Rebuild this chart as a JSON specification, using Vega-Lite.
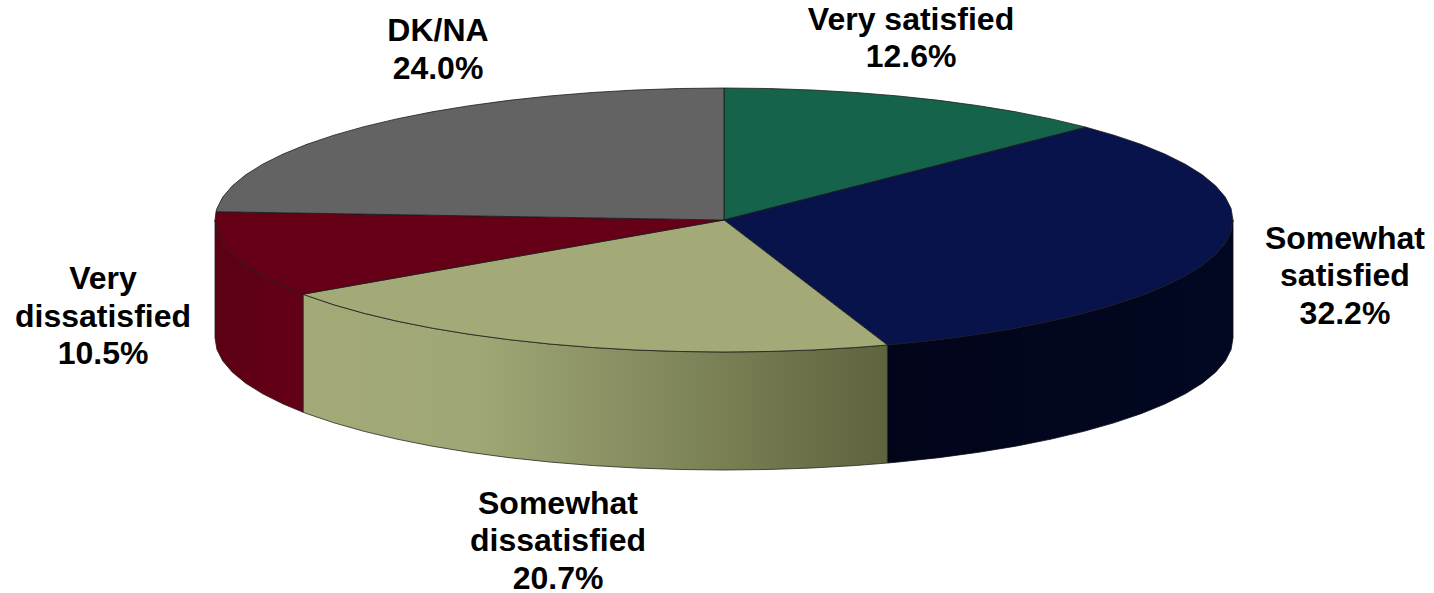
{
"$schema":"https://vega.github.io/schema/vega-lite/v6.json",
"width":1434,"height":593,"autosize":"none","padding":0,"background":"white",
"config":{"view":{"stroke":null}},
"datasets":{
"sides":[
{"s":"Somewhat satisfied","x":1,"y":0,"y2":-0.894},{"s":"Somewhat satisfied","x":0.9962,"y":-0.0872,"y2":-0.9812},{"s":"Somewhat satisfied","x":0.9848,"y":-0.1736,"y2":-1.0676},{"s":"Somewhat satisfied","x":0.9659,"y":-0.2588,"y2":-1.1528},{"s":"Somewhat satisfied","x":0.9397,"y":-0.342,"y2":-1.236},{"s":"Somewhat satisfied","x":0.9063,"y":-0.4226,"y2":-1.3166},{"s":"Somewhat satisfied","x":0.866,"y":-0.5,"y2":-1.394},{"s":"Somewhat satisfied","x":0.8192,"y":-0.5736,"y2":-1.4676},{"s":"Somewhat satisfied","x":0.766,"y":-0.6428,"y2":-1.5368},{"s":"Somewhat satisfied","x":0.7071,"y":-0.7071,"y2":-1.6011},{"s":"Somewhat satisfied","x":0.6428,"y":-0.766,"y2":-1.66},{"s":"Somewhat satisfied","x":0.5736,"y":-0.8192,"y2":-1.7132},{"s":"Somewhat satisfied","x":0.5,"y":-0.866,"y2":-1.76},{"s":"Somewhat satisfied","x":0.4226,"y":-0.9063,"y2":-1.8003},{"s":"Somewhat satisfied","x":0.342,"y":-0.9397,"y2":-1.8337},{"s":"Somewhat satisfied","x":0.321,"y":-0.9471,"y2":-1.8411},
{"s":"Somewhat dissatisfied","x":0.321,"y":-0.9471,"y2":-1.8411},{"s":"Somewhat dissatisfied","x":0.2588,"y":-0.9659,"y2":-1.8599},{"s":"Somewhat dissatisfied","x":0.1736,"y":-0.9848,"y2":-1.8788},{"s":"Somewhat dissatisfied","x":0.0872,"y":-0.9962,"y2":-1.8902},{"s":"Somewhat dissatisfied","x":0,"y":-1,"y2":-1.894},{"s":"Somewhat dissatisfied","x":-0.0872,"y":-0.9962,"y2":-1.8902},{"s":"Somewhat dissatisfied","x":-0.1736,"y":-0.9848,"y2":-1.8788},{"s":"Somewhat dissatisfied","x":-0.2588,"y":-0.9659,"y2":-1.8599},{"s":"Somewhat dissatisfied","x":-0.342,"y":-0.9397,"y2":-1.8337},{"s":"Somewhat dissatisfied","x":-0.4226,"y":-0.9063,"y2":-1.8003},{"s":"Somewhat dissatisfied","x":-0.5,"y":-0.866,"y2":-1.76},{"s":"Somewhat dissatisfied","x":-0.5736,"y":-0.8192,"y2":-1.7132},{"s":"Somewhat dissatisfied","x":-0.6428,"y":-0.766,"y2":-1.66},{"s":"Somewhat dissatisfied","x":-0.7071,"y":-0.7071,"y2":-1.6011},{"s":"Somewhat dissatisfied","x":-0.766,"y":-0.6428,"y2":-1.5368},{"s":"Somewhat dissatisfied","x":-0.8192,"y":-0.5736,"y2":-1.4676},{"s":"Somewhat dissatisfied","x":-0.8271,"y":-0.5621,"y2":-1.4561},
{"s":"Very dissatisfied","x":-0.8271,"y":-0.5621,"y2":-1.4561},{"s":"Very dissatisfied","x":-0.866,"y":-0.5,"y2":-1.394},{"s":"Very dissatisfied","x":-0.9063,"y":-0.4226,"y2":-1.3166},{"s":"Very dissatisfied","x":-0.9397,"y":-0.342,"y2":-1.236},{"s":"Very dissatisfied","x":-0.9659,"y":-0.2588,"y2":-1.1528},{"s":"Very dissatisfied","x":-0.9848,"y":-0.1736,"y2":-1.0676},{"s":"Very dissatisfied","x":-0.9962,"y":-0.0872,"y2":-0.9812},{"s":"Very dissatisfied","x":-1,"y":0,"y2":-0.894}
],
"tops":[
{"s":"Very satisfied","i":0,"x":0,"y":0},{"s":"Very satisfied","i":1,"x":0,"y":1},{"s":"Very satisfied","i":2,"x":0.0872,"y":0.9962},{"s":"Very satisfied","i":3,"x":0.1736,"y":0.9848},{"s":"Very satisfied","i":4,"x":0.2588,"y":0.9659},{"s":"Very satisfied","i":5,"x":0.342,"y":0.9397},{"s":"Very satisfied","i":6,"x":0.4226,"y":0.9063},{"s":"Very satisfied","i":7,"x":0.5,"y":0.866},{"s":"Very satisfied","i":8,"x":0.5736,"y":0.8192},{"s":"Very satisfied","i":9,"x":0.6428,"y":0.766},{"s":"Very satisfied","i":10,"x":0.7071,"y":0.7071},{"s":"Very satisfied","i":11,"x":0.7115,"y":0.7027},{"s":"Very satisfied","i":12,"x":0,"y":0},
{"s":"Somewhat satisfied","i":0,"x":0,"y":0},{"s":"Somewhat satisfied","i":1,"x":0.7115,"y":0.7027},{"s":"Somewhat satisfied","i":2,"x":0.766,"y":0.6428},{"s":"Somewhat satisfied","i":3,"x":0.8192,"y":0.5736},{"s":"Somewhat satisfied","i":4,"x":0.866,"y":0.5},{"s":"Somewhat satisfied","i":5,"x":0.9063,"y":0.4226},{"s":"Somewhat satisfied","i":6,"x":0.9397,"y":0.342},{"s":"Somewhat satisfied","i":7,"x":0.9659,"y":0.2588},{"s":"Somewhat satisfied","i":8,"x":0.9848,"y":0.1736},{"s":"Somewhat satisfied","i":9,"x":0.9962,"y":0.0872},{"s":"Somewhat satisfied","i":10,"x":1,"y":0},{"s":"Somewhat satisfied","i":11,"x":0.9962,"y":-0.0872},{"s":"Somewhat satisfied","i":12,"x":0.9848,"y":-0.1736},{"s":"Somewhat satisfied","i":13,"x":0.9659,"y":-0.2588},{"s":"Somewhat satisfied","i":14,"x":0.9397,"y":-0.342},{"s":"Somewhat satisfied","i":15,"x":0.9063,"y":-0.4226},{"s":"Somewhat satisfied","i":16,"x":0.866,"y":-0.5},{"s":"Somewhat satisfied","i":17,"x":0.8192,"y":-0.5736},{"s":"Somewhat satisfied","i":18,"x":0.766,"y":-0.6428},{"s":"Somewhat satisfied","i":19,"x":0.7071,"y":-0.7071},{"s":"Somewhat satisfied","i":20,"x":0.6428,"y":-0.766},{"s":"Somewhat satisfied","i":21,"x":0.5736,"y":-0.8192},{"s":"Somewhat satisfied","i":22,"x":0.5,"y":-0.866},{"s":"Somewhat satisfied","i":23,"x":0.4226,"y":-0.9063},{"s":"Somewhat satisfied","i":24,"x":0.342,"y":-0.9397},{"s":"Somewhat satisfied","i":25,"x":0.321,"y":-0.9471},{"s":"Somewhat satisfied","i":26,"x":0,"y":0},
{"s":"Somewhat dissatisfied","i":0,"x":0,"y":0},{"s":"Somewhat dissatisfied","i":1,"x":0.321,"y":-0.9471},{"s":"Somewhat dissatisfied","i":2,"x":0.2588,"y":-0.9659},{"s":"Somewhat dissatisfied","i":3,"x":0.1736,"y":-0.9848},{"s":"Somewhat dissatisfied","i":4,"x":0.0872,"y":-0.9962},{"s":"Somewhat dissatisfied","i":5,"x":0,"y":-1},{"s":"Somewhat dissatisfied","i":6,"x":-0.0872,"y":-0.9962},{"s":"Somewhat dissatisfied","i":7,"x":-0.1736,"y":-0.9848},{"s":"Somewhat dissatisfied","i":8,"x":-0.2588,"y":-0.9659},{"s":"Somewhat dissatisfied","i":9,"x":-0.342,"y":-0.9397},{"s":"Somewhat dissatisfied","i":10,"x":-0.4226,"y":-0.9063},{"s":"Somewhat dissatisfied","i":11,"x":-0.5,"y":-0.866},{"s":"Somewhat dissatisfied","i":12,"x":-0.5736,"y":-0.8192},{"s":"Somewhat dissatisfied","i":13,"x":-0.6428,"y":-0.766},{"s":"Somewhat dissatisfied","i":14,"x":-0.7071,"y":-0.7071},{"s":"Somewhat dissatisfied","i":15,"x":-0.766,"y":-0.6428},{"s":"Somewhat dissatisfied","i":16,"x":-0.8192,"y":-0.5736},{"s":"Somewhat dissatisfied","i":17,"x":-0.8271,"y":-0.5621},{"s":"Somewhat dissatisfied","i":18,"x":0,"y":0},
{"s":"Very dissatisfied","i":0,"x":0,"y":0},{"s":"Very dissatisfied","i":1,"x":-0.8271,"y":-0.5621},{"s":"Very dissatisfied","i":2,"x":-0.866,"y":-0.5},{"s":"Very dissatisfied","i":3,"x":-0.9063,"y":-0.4226},{"s":"Very dissatisfied","i":4,"x":-0.9397,"y":-0.342},{"s":"Very dissatisfied","i":5,"x":-0.9659,"y":-0.2588},{"s":"Very dissatisfied","i":6,"x":-0.9848,"y":-0.1736},{"s":"Very dissatisfied","i":7,"x":-0.9962,"y":-0.0872},{"s":"Very dissatisfied","i":8,"x":-1,"y":0},{"s":"Very dissatisfied","i":9,"x":-0.998,"y":0.0628},{"s":"Very dissatisfied","i":10,"x":0,"y":0},
{"s":"DK/NA","i":0,"x":0,"y":0},{"s":"DK/NA","i":1,"x":-0.998,"y":0.0628},{"s":"DK/NA","i":2,"x":-0.9962,"y":0.0872},{"s":"DK/NA","i":3,"x":-0.9848,"y":0.1736},{"s":"DK/NA","i":4,"x":-0.9659,"y":0.2588},{"s":"DK/NA","i":5,"x":-0.9397,"y":0.342},{"s":"DK/NA","i":6,"x":-0.9063,"y":0.4226},{"s":"DK/NA","i":7,"x":-0.866,"y":0.5},{"s":"DK/NA","i":8,"x":-0.8192,"y":0.5736},{"s":"DK/NA","i":9,"x":-0.766,"y":0.6428},{"s":"DK/NA","i":10,"x":-0.7071,"y":0.7071},{"s":"DK/NA","i":11,"x":-0.6428,"y":0.766},{"s":"DK/NA","i":12,"x":-0.5736,"y":0.8192},{"s":"DK/NA","i":13,"x":-0.5,"y":0.866},{"s":"DK/NA","i":14,"x":-0.4226,"y":0.9063},{"s":"DK/NA","i":15,"x":-0.342,"y":0.9397},{"s":"DK/NA","i":16,"x":-0.2588,"y":0.9659},{"s":"DK/NA","i":17,"x":-0.1736,"y":0.9848},{"s":"DK/NA","i":18,"x":-0.0872,"y":0.9962},{"s":"DK/NA","i":19,"x":0,"y":1},{"s":"DK/NA","i":20,"x":0,"y":0}
],
"labels":[
{"label":"Very satisfied\n12.6%","x":0.3674,"y":1.5152},
{"label":"Somewhat\nsatisfied\n32.2%","x":1.22,"y":-0.1439},
{"label":"Somewhat\ndissatisfied\n20.7%","x":-0.3261,"y":-2.1515},
{"label":"Very\ndissatisfied\n10.5%","x":-1.22,"y":-0.447},
{"label":"DK/NA\n24.0%","x":-0.5619,"y":1.4318}
]
},
"encoding":{
"x":{"field":"x","type":"quantitative","axis":null,"scale":{"domain":[-1.4224,1.3949],"nice":false,"zero":false}},
"y":{"field":"y","type":"quantitative","axis":null,"scale":{"domain":[-2.8258,1.6667],"nice":false,"zero":false}}
},
"layer":[
{"data":{"name":"sides"},"transform":[{"filter":"datum.s==='Somewhat satisfied'"}],
"mark":{"type":"area","stroke":"#0a0c14","strokeWidth":0.8,"fill":{"gradient":"linear","x1":0,"x2":1,"y1":0,"y2":0,"stops":[{"offset":0,"color":"#02051a"},{"offset":1,"color":"#020823"}]}},
"encoding":{"y2":{"field":"y2"}}},
{"data":{"name":"sides"},"transform":[{"filter":"datum.s==='Somewhat dissatisfied'"}],
"mark":{"type":"area","stroke":"#26281c","strokeWidth":0.8,"fill":{"gradient":"linear","x1":0,"x2":1,"y1":0,"y2":0,"stops":[{"offset":0,"color":"#a3aa78"},{"offset":0.3,"color":"#a0a776"},{"offset":1,"color":"#5f633e"}]}},
"encoding":{"y2":{"field":"y2"}}},
{"data":{"name":"sides"},"transform":[{"filter":"datum.s==='Very dissatisfied'"}],
"mark":{"type":"area","stroke":"#2a1a1c","strokeWidth":0.8,"fill":{"gradient":"linear","x1":0,"x2":1,"y1":0,"y2":0,"stops":[{"offset":0,"color":"#5c0014"},{"offset":1,"color":"#650016"}]}},
"encoding":{"y2":{"field":"y2"}}},
{"data":{"name":"tops"},
"mark":{"type":"line","stroke":"#1c1c1c","strokeWidth":0.8},
"encoding":{"order":{"field":"i","type":"quantitative"},
"fill":{"field":"s","type":"nominal","legend":null,"scale":{"domain":["Very satisfied","Somewhat satisfied","Somewhat dissatisfied","Very dissatisfied","DK/NA"],"range":["#14634a","#08134b","#a3aa78","#660016","#636363"]}}}},
{"data":{"name":"labels"},
"mark":{"type":"text","font":"Liberation Sans","fontWeight":"bold","fontSize":32,"lineHeight":37.5,"lineBreak":"\n","align":"center","baseline":"middle","color":"#000000"},
"encoding":{"text":{"field":"label","type":"nominal"}}}
]
}
